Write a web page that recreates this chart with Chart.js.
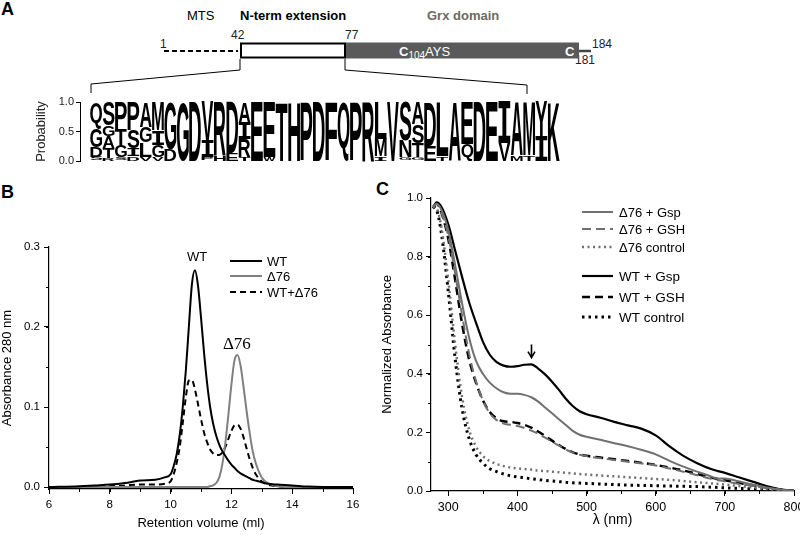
<!DOCTYPE html>
<html>
<head>
<meta charset="utf-8">
<script src="https://cdn.jsdelivr.net/npm/chart.js@4.4.1/dist/chart.umd.min.js"></script>
<style>
html, body { margin: 0; padding: 0; background: #fff; }
#figure { position: relative; width: 800px; height: 535px; overflow: hidden; font-family: "Liberation Sans", Arial, sans-serif; color: #000; }
.abs { position: absolute; white-space: nowrap; line-height: 1; }
.panel { font-weight: bold; font-size: 18px; }
.num { font-size: 12px; color: #222; }
canvas { position: absolute; }
</style>
</head>
<body>
<div id="figure">
  <div class="abs panel" style="left:1px;top:0px">A</div>
  <div class="abs panel" style="left:1px;top:183px">B</div>
  <div class="abs panel" style="left:376px;top:180px">C</div>

  <div class="abs" style="left:187px;top:9px;font-size:13px">MTS</div>
  <div class="abs" style="left:240px;top:9px;font-size:13px;font-weight:bold">N-term extension</div>
  <div class="abs" style="left:427px;top:9px;font-size:13px;font-weight:bold;color:#6a6a6a">Grx domain</div>

  <div class="abs num" style="left:160px;top:38px">1</div>
  <div class="abs num" style="left:231px;top:29px">42</div>
  <div class="abs num" style="left:345px;top:29px">77</div>
  <div class="abs num" style="left:592px;top:38px">184</div>
  <div class="abs num" style="left:575px;top:54px">181</div>

  <svg class="abs" width="800" height="100" style="left:0;top:0">
    <line x1="164" y1="51" x2="238" y2="51" stroke="#000" stroke-width="2" stroke-dasharray="5 3"/>
    <rect x="345" y="42.5" width="234" height="16" fill="#5a5a5a"/>
    <rect x="241" y="43.5" width="104" height="14" fill="#fff" stroke="#000" stroke-width="2"/>
    <line x1="579" y1="51" x2="591" y2="51" stroke="#444" stroke-width="2.5"/>
    <polyline points="240,59 240,70 91,84 91,93" fill="none" stroke="#000" stroke-width="1"/>
    <polyline points="345,59 345,70 527,85 527,94" fill="none" stroke="#000" stroke-width="1"/>
  </svg>
  <div class="abs" style="left:399px;top:45px;color:#fff;font-size:13px">
    <b style="font-size:13px">C</b><span style="font-size:10px;position:relative;top:3px">104</span>AYS
  </div>
  <div class="abs" style="left:565px;top:45px;color:#fff;font-size:13px;font-weight:bold">C</div>

  <canvas id="logoChart" width="570" height="80" style="left:0;top:90px"></canvas>
  <canvas id="chartB" width="380" height="305" style="left:0;top:230px"></canvas>
  <canvas id="chartC" width="420" height="355" style="left:380px;top:180px"></canvas>
</div>

<script>
// --- Panel A: sequence logo of the N-terminal extension (one column per residue) ---
// letters listed bottom -> top, heights are the probability of each letter
const logoLetters = ['SDGQ', 'RTAGS', 'SGTP', 'DISP', 'VLGA', 'VGIM', 'DG', 'G', 'D', 'PIV',
  'HR', 'ED', 'TRIA', 'E', 'WE', 'T', 'H', 'P', 'D', 'F', 'Q', 'P', 'R', 'IML', 'V',
  'GNS', 'GTSA', 'ED', 'TL', 'A', 'QE', 'D', 'E', 'VI', 'MA', 'TM', 'IY', 'K'];
const logoHeights = [
  [0.07, 0.17, 0.31, 0.45], [0.05, 0.17, 0.2, 0.18, 0.4], [0.06, 0.2, 0.28, 0.46], [0.08, 0.14, 0.3, 0.48],
  [0.07, 0.24, 0.27, 0.42], [0.07, 0.2, 0.25, 0.48], [0.2, 0.8], [1], [1], [0.06, 0.28, 0.66],
  [0.1, 0.9], [0.14, 0.86], [0.07, 0.3, 0.28, 0.35], [1], [0.07, 0.93], [1], [1], [1], [1], [1], [1], [1], [1],
  [0.08, 0.3, 0.62], [1], [0.06, 0.28, 0.66], [0.06, 0.24, 0.32, 0.38], [0.26, 0.74], [0.08, 0.92], [1],
  [0.28, 0.72], [1], [1], [0.3, 0.7], [0.1, 0.9], [0.1, 0.9], [0.42, 0.58], [1]];
const logoTicks = [0, 0.5, 1];

// --- Panel B: size exclusion chromatography ---
const bVolume = [6, 7, 7.5, 8, 8.5, 9, 9.5, 9.8,
  10, 10.1, 10.2, 10.3, 10.4, 10.5, 10.6, 10.7, 10.8, 10.9, 11, 11.1, 11.2, 11.3, 11.4, 11.5,
  11.6, 11.7, 11.8, 11.9, 12, 12.1, 12.2, 12.3, 12.4, 12.5, 12.6, 12.7, 12.8,
  13, 13.2, 13.5, 14, 14.5, 15, 16];
const bWT = [0, 0.001, 0.002, 0.003, 0.005, 0.008, 0.009, 0.012,
  0.016, 0.026, 0.041, 0.065, 0.1, 0.145, 0.2, 0.253, 0.271, 0.252, 0.212, 0.168, 0.13, 0.1, 0.079, 0.064,
  0.053, 0.045, 0.039, 0.033, 0.028, 0.024, 0.02, 0.017, 0.015, 0.013, 0.011, 0.009, 0.008,
  0.006, 0.004, 0.003, 0.002, 0.0005, 0, 0];
const bD76 = [0, 0, 0, 0, 0, 0, 0, 0,
  0, 0, 0, 0, 0, 0, 0, 0, 0, 0, 0, 0, 0, 0.001, 0.002, 0.005,
  0.012, 0.028, 0.055, 0.09, 0.128, 0.158, 0.165, 0.152, 0.125, 0.095, 0.068, 0.045, 0.03,
  0.012, 0.005, 0.001, 0, 0, 0, 0];
const bMix = [-0.001, 0, 0.001, 0.001, 0.002, 0.003, 0.003, 0.004,
  0.007, 0.016, 0.03, 0.05, 0.08, 0.112, 0.133, 0.134, 0.122, 0.104, 0.085, 0.068, 0.056, 0.047, 0.042, 0.04,
  0.04, 0.043, 0.05, 0.06, 0.07, 0.077, 0.078, 0.073, 0.062, 0.048, 0.035, 0.024, 0.016,
  0.007, 0.003, 0.001, 0, 0, 0, 0];
const bTicksX = [6, 8, 10, 12, 14, 16];
const bTicksY = [0, 0.1, 0.2, 0.3];

// --- Panel C: UV-visible spectra ---
const cWave = [278, 283, 290, 300, 310, 320, 330, 340, 350, 360, 370, 380, 390, 400, 410, 420, 430, 440,
  450, 460, 470, 480, 490, 500, 520, 540, 560, 580, 600, 620, 640, 660, 680, 690, 700, 720, 740, 760, 780, 800];
const cD76Gsp = [0.97, 0.98, 0.96, 0.89, 0.77, 0.64, 0.525, 0.445, 0.4, 0.37, 0.35, 0.337, 0.332, 0.332, 0.328, 0.32, 0.305, 0.285,
  0.265, 0.245, 0.225, 0.205, 0.192, 0.185, 0.175, 0.163, 0.153, 0.14, 0.125, 0.103, 0.083, 0.066, 0.05, 0.042, 0.043, 0.033, 0.022, 0.012, 0.005, 0];
const cD76Gsh = [0.97, 0.98, 0.95, 0.87, 0.74, 0.6, 0.47, 0.375, 0.31, 0.265, 0.242, 0.23, 0.226, 0.222, 0.215, 0.206, 0.195, 0.182,
  0.168, 0.155, 0.142, 0.131, 0.124, 0.119, 0.112, 0.106, 0.1, 0.094, 0.087, 0.077, 0.066, 0.054, 0.042, 0.037, 0.033, 0.024, 0.017, 0.01, 0.004, 0];
const cD76Ctrl = [0.97, 0.965, 0.9, 0.72, 0.5, 0.32, 0.21, 0.152, 0.12, 0.102, 0.092, 0.085, 0.08, 0.077, 0.075, 0.073, 0.07, 0.068,
  0.066, 0.064, 0.062, 0.06, 0.058, 0.056, 0.053, 0.05, 0.047, 0.044, 0.041, 0.038, 0.034, 0.03, 0.026, 0.024, 0.022, 0.017, 0.012, 0.007, 0.003, 0];
const cWTGsp = [0.965, 0.985, 0.97, 0.91, 0.82, 0.73, 0.645, 0.575, 0.51, 0.465, 0.44, 0.428, 0.424, 0.426, 0.431, 0.432, 0.418, 0.398,
  0.373, 0.345, 0.315, 0.29, 0.272, 0.262, 0.25, 0.236, 0.224, 0.212, 0.19, 0.152, 0.12, 0.095, 0.075, 0.068, 0.062, 0.047, 0.032, 0.017, 0.006, 0];
const cWTGsh = [0.97, 0.98, 0.95, 0.86, 0.72, 0.57, 0.45, 0.37, 0.31, 0.27, 0.248, 0.238, 0.236, 0.232, 0.226, 0.216, 0.203, 0.188,
  0.172, 0.157, 0.143, 0.132, 0.125, 0.12, 0.114, 0.108, 0.102, 0.096, 0.089, 0.08, 0.07, 0.058, 0.046, 0.041, 0.037, 0.028, 0.02, 0.012, 0.005, 0];
const cWTCtrl = [0.97, 0.96, 0.88, 0.68, 0.45, 0.28, 0.18, 0.125, 0.095, 0.076, 0.066, 0.058, 0.052, 0.048, 0.045, 0.042, 0.039, 0.036,
  0.034, 0.032, 0.03, 0.028, 0.027, 0.026, 0.024, 0.022, 0.02, 0.019, 0.018, 0.017, 0.016, 0.015, 0.013, 0.012, 0.011, 0.009, 0.007, 0.004, 0.002, 0];
const cTicksX = [300, 400, 500, 600, 700, 800];
const cTicksY = [0, 0.2, 0.4, 0.6, 0.8, 1.0];

const GRAY_B = '#808080';
const GRAY_C = '#707070';

document.addEventListener('DOMContentLoaded', () => {
    Chart.defaults.font.family = '"Liberation Sans", Arial, sans-serif';
    Chart.defaults.color = '#000';

    const pts = (xs, ys) => xs.map((x, i) => ({ x: x, y: ys[i] }));
    const fixedTicks = (list) => (scale) => { scale.ticks = list.map(v => ({ value: v })); };

    // --- Plugins ---
    // Stretch each letter of the logo into its bar rectangle
    const logoLetterPlugin = {
        id: 'logoLetters',
        afterDatasetsDraw(chart) {
            const ctx = chart.ctx;
            const area = chart.chartArea;
            ctx.save();
            ctx.beginPath();
            ctx.rect(area.left, area.top - 1, area.right - area.left, area.bottom - area.top + 2);
            ctx.clip();
            ctx.fillStyle = '#000';
            ctx.textAlign = 'left';
            ctx.textBaseline = 'alphabetic';
            chart.data.datasets.forEach((ds, d) => {
                chart.getDatasetMeta(d).data.forEach((bar, j) => {
                    const letter = ds.data[j].letter;
                    const top = Math.min(bar.y, bar.base);
                    const h = Math.abs(bar.base - bar.y);
                    if (h < 0.8) return;
                    const w = bar.width * 0.96;
                    // the logo's I has crossbars, so take it from a monospace face
                    ctx.font = letter === 'I'
                        ? 'bold 100px "DejaVu Sans Mono", monospace'
                        : 'bold 100px "Liberation Sans", Arial, sans-serif';
                    const m = ctx.measureText(letter);
                    const gw = m.actualBoundingBoxLeft + m.actualBoundingBoxRight;
                    const gh = m.actualBoundingBoxAscent + m.actualBoundingBoxDescent;
                    ctx.save();
                    ctx.translate(bar.x - w / 2, top);
                    ctx.scale(w / gw, h / gh);
                    ctx.fillText(letter, m.actualBoundingBoxLeft, m.actualBoundingBoxAscent);
                    ctx.restore();
                });
            });
            ctx.restore();
        }
    };

    // Short unlabeled ticks between the labeled ones
    const minorTickPlugin = {
        id: 'minorTicks',
        afterDraw(chart, args, opts) {
            const ctx = chart.ctx;
            ctx.save();
            ctx.strokeStyle = '#000';
            ctx.lineWidth = 1;
            ['x', 'y'].forEach(id => {
                const step = opts[id];
                if (!step) return;
                const sc = chart.scales[id];
                for (let k = Math.ceil(sc.min / step - 1e-9); k * step <= sc.max + 1e-9; k++) {
                    const p = Math.round(sc.getPixelForValue(k * step)) + 0.5;
                    ctx.beginPath();
                    if (id === 'x') { ctx.moveTo(p, sc.top); ctx.lineTo(p, sc.top + opts.length); }
                    else { ctx.moveTo(sc.right - opts.length, p); ctx.lineTo(sc.right, p); }
                    ctx.stroke();
                }
            });
            ctx.restore();
        }
    };

    // Legend rows built from the datasets (sample line + label)
    const lineKeyPlugin = {
        id: 'lineKey',
        afterDraw(chart, args, opts) {
            const ctx = chart.ctx;
            opts.rows.forEach(row => {
                const ds = chart.data.datasets[row.index];
                ctx.save();
                ctx.strokeStyle = ds.borderColor;
                ctx.lineWidth = ds.borderWidth;
                ctx.setLineDash(ds.borderDash || []);
                ctx.beginPath();
                ctx.moveTo(opts.x0, row.y);
                ctx.lineTo(opts.x1, row.y);
                ctx.stroke();
                ctx.setLineDash([]);
                ctx.fillStyle = '#000';
                ctx.font = row.font || opts.font;
                ctx.textBaseline = 'middle';
                ctx.fillText(ds.label, opts.textX, row.y + 1);
                ctx.restore();
            });
        }
    };

    // Peak names placed at data coordinates
    const textMarkPlugin = {
        id: 'textMarks',
        afterDraw(chart, args, opts) {
            const ctx = chart.ctx;
            (opts.items || []).forEach(item => {
                ctx.save();
                ctx.font = item.font;
                ctx.fillStyle = '#000';
                ctx.textAlign = 'center';
                ctx.textBaseline = 'middle';
                ctx.fillText(item.text, chart.scales.x.getPixelForValue(item.x), chart.scales.y.getPixelForValue(item.y));
                ctx.restore();
            });
        }
    };

    // Downward arrow marking the 420 nm band
    const arrowPlugin = {
        id: 'peakArrow',
        afterDraw(chart, args, opts) {
            const ctx = chart.ctx;
            const x = Math.round(chart.scales.x.getPixelForValue(opts.x)) + 0.5;
            const y0 = chart.scales.y.getPixelForValue(opts.from);
            const y1 = chart.scales.y.getPixelForValue(opts.to);
            ctx.save();
            ctx.strokeStyle = '#000';
            ctx.lineWidth = 1.6;
            ctx.beginPath();
            ctx.moveTo(x, y0);
            ctx.lineTo(x, y1 - 1);
            ctx.moveTo(x - 3.5, y1 - 6);
            ctx.lineTo(x, y1);
            ctx.lineTo(x + 3.5, y1 - 6);
            ctx.stroke();
            ctx.restore();
        }
    };

    const axisGrid = { drawOnChartArea: false, tickLength: 5, color: '#000', lineWidth: 1 };
    const axisBorder = { color: '#000', width: 1.2 };

    // --- Panel A logo chart ---
    const logoCanvas = document.getElementById('logoChart');
    if (logoCanvas) {
        const maxLayers = Math.max(...logoLetters.map(s => s.length));
        const logoSets = [];
        for (let k = 0; k < maxLayers; k++) {
            const data = [];
            logoLetters.forEach((col, i) => {
                if (k >= col.length) return;
                const start = logoHeights[i].slice(0, k).reduce((a, b) => a + b, 0);
                data.push({ x: i, y: [start, start + logoHeights[i][k]], letter: col[k] });
            });
            logoSets.push({
                data: data, backgroundColor: 'rgba(0,0,0,0)', borderWidth: 0,
                grouped: false, barPercentage: 1, categoryPercentage: 1
            });
        }
        new Chart(logoCanvas, {
            type: 'bar',
            data: { datasets: logoSets },
            options: {
                responsive: false,
                animation: false,
                layout: { padding: { top: 12, bottom: 9, left: 34, right: 10 } },
                plugins: { legend: { display: false }, tooltip: { enabled: false } },
                scales: {
                    x: {
                        type: 'linear', display: false, offset: false,
                        min: -1.31, max: logoLetters.length - 0.5,
                        afterBuildTicks: fixedTicks([-1.31, logoLetters.length - 0.5])
                    },
                    y: {
                        min: 0, max: 1,
                        afterBuildTicks: fixedTicks(logoTicks),
                        afterFit: (s) => { s.width = 46; },
                        ticks: { font: { size: 11 }, color: '#222', padding: 2, callback: v => v.toFixed(1) },
                        grid: { drawOnChartArea: false, tickLength: 4, color: '#000' },
                        border: { color: '#000', width: 1 },
                        title: { display: true, text: 'Probability', font: { size: 13 }, color: '#222', padding: 0 }
                    }
                }
            },
            plugins: [logoLetterPlugin]
        });
        console.log('Logo chart drawn with ' + logoLetters.length + ' columns.');
    }

    // --- Panel B chromatogram ---
    const canvasB = document.getElementById('chartB');
    if (canvasB) {
        new Chart(canvasB, {
            type: 'line',
            data: {
                datasets: [
                    { label: 'WT', data: pts(bVolume, bWT), borderColor: '#000', borderWidth: 2 },
                    { label: 'Δ76', data: pts(bVolume, bD76), borderColor: GRAY_B, borderWidth: 2 },
                    { label: 'WT+Δ76', data: pts(bVolume, bMix), borderColor: '#000', borderWidth: 2, borderDash: [6, 4] }
                ]
            },
            options: {
                responsive: false,
                animation: false,
                elements: { point: { radius: 0 }, line: { cubicInterpolationMode: 'monotone', fill: false } },
                layout: { padding: { top: 17, right: 27, left: 0, bottom: 0 } },
                plugins: {
                    legend: { display: false },
                    tooltip: { enabled: false },
                    minorTicks: { x: 1, y: 0.05, length: 3 },
                    lineKey: {
                        x0: 230, x1: 262, textX: 267, font: '13px "Liberation Sans", Arial, sans-serif',
                        rows: [{ index: 0, y: 31 }, { index: 1, y: 46 }, { index: 2, y: 62 }]
                    },
                    textMarks: {
                        items: [
                            { text: 'WT', x: 10.87, y: 0.2875, font: '13px "Liberation Sans", Arial, sans-serif' },
                            { text: 'Δ76', x: 12.18, y: 0.1775, font: '17px "Liberation Serif", "Times New Roman", serif' }
                        ]
                    }
                },
                scales: {
                    x: {
                        type: 'linear', min: 6, max: 16,
                        afterBuildTicks: fixedTicks(bTicksX),
                        afterFit: (s) => { s.height = 46; s.paddingLeft = 0; s.paddingRight = 0; },
                        ticks: { font: { size: 11.5 }, padding: 4, autoSkip: false, maxRotation: 0 },
                        grid: axisGrid, border: axisBorder,
                        title: { display: true, text: 'Retention volume (ml)', font: { size: 13 }, padding: 4 }
                    },
                    y: {
                        min: -0.0025, max: 0.3,
                        afterBuildTicks: fixedTicks(bTicksY),
                        afterFit: (s) => { s.width = 49; },
                        ticks: { font: { size: 11.5 }, padding: 4, autoSkip: false, callback: v => v.toFixed(1) },
                        grid: axisGrid, border: axisBorder,
                        title: { display: true, text: 'Absorbance 280 nm', font: { size: 13 }, padding: 0 }
                    }
                }
            },
            plugins: [minorTickPlugin, lineKeyPlugin, textMarkPlugin]
        });
        console.log('Panel B chart drawn.');
    }

    // --- Panel C spectra ---
    const canvasC = document.getElementById('chartC');
    if (canvasC) {
        new Chart(canvasC, {
            type: 'line',
            data: {
                datasets: [
                    { label: 'Δ76 + Gsp', data: pts(cWave, cD76Gsp), borderColor: GRAY_C, borderWidth: 2 },
                    { label: 'Δ76 + GSH', data: pts(cWave, cD76Gsh), borderColor: GRAY_C, borderWidth: 2, borderDash: [9, 5] },
                    { label: 'Δ76 control', data: pts(cWave, cD76Ctrl), borderColor: GRAY_C, borderWidth: 2.5, borderDash: [2, 3.5] },
                    { label: 'WT + Gsp', data: pts(cWave, cWTGsp), borderColor: '#000', borderWidth: 2.2 },
                    { label: 'WT + GSH', data: pts(cWave, cWTGsh), borderColor: '#000', borderWidth: 2.5, borderDash: [8, 5] },
                    { label: 'WT control', data: pts(cWave, cWTCtrl), borderColor: '#000', borderWidth: 3, borderDash: [2.5, 4] }
                ]
            },
            options: {
                responsive: false,
                animation: false,
                elements: { point: { radius: 0 }, line: { cubicInterpolationMode: 'monotone', fill: false } },
                layout: { padding: { top: 18, right: 6, left: 0, bottom: 0 } },
                plugins: {
                    legend: { display: false },
                    tooltip: { enabled: false },
                    minorTicks: { x: 50, y: 0.1, length: 3 },
                    lineKey: {
                        x0: 202, x1: 233, textX: 239, font: '13px "Liberation Sans", Arial, sans-serif',
                        rows: [
                            { index: 0, y: 32 }, { index: 1, y: 49 }, { index: 2, y: 67 },
                            { index: 3, y: 96, font: '13.5px "Liberation Sans", Arial, sans-serif' },
                            { index: 4, y: 117, font: '13.5px "Liberation Sans", Arial, sans-serif' },
                            { index: 5, y: 137, font: '13.5px "Liberation Sans", Arial, sans-serif' }
                        ]
                    },
                    peakArrow: { x: 420, from: 0.5, to: 0.455 }
                },
                scales: {
                    x: {
                        type: 'linear', min: 275, max: 800,
                        afterBuildTicks: fixedTicks(cTicksX),
                        afterFit: (s) => { s.height = 44; s.paddingLeft = 0; s.paddingRight = 0; },
                        ticks: { font: { size: 12.5 }, padding: 4, autoSkip: false, maxRotation: 0 },
                        grid: axisGrid, border: axisBorder,
                        title: { display: true, text: 'λ (nm)', font: { size: 14 }, padding: 6 }
                    },
                    y: {
                        min: 0, max: 1,
                        afterBuildTicks: fixedTicks(cTicksY),
                        afterFit: (s) => { s.width = 51; },
                        ticks: { font: { size: 11.5 }, padding: 3, autoSkip: false, callback: v => v.toFixed(1) },
                        grid: axisGrid, border: axisBorder,
                        title: { display: true, text: 'Normalized Absorbance', font: { size: 13 }, padding: 0 }
                    }
                }
            },
            plugins: [minorTickPlugin, lineKeyPlugin, arrowPlugin]
        });
        console.log('Panel C chart drawn.');
    }
});
</script>
</body>
</html>
